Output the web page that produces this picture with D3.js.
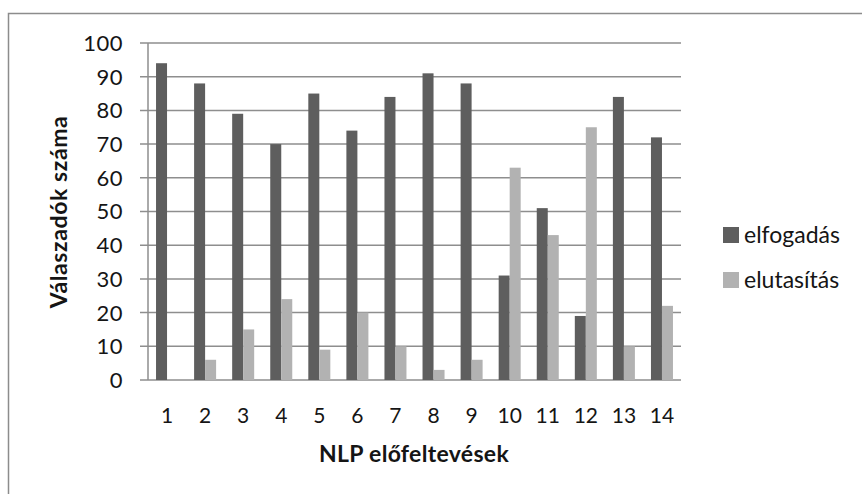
<!DOCTYPE html>
<html>
<head>
<meta charset="utf-8">
<script src="https://cdn.jsdelivr.net/npm/d3@7/dist/d3.min.js"></script>
<style>
  body { margin: 0; background: #fff; }
  text { font-family: Lato, "Open Sans", sans-serif; fill: #151515; }
</style>
</head>
<body>
<div id="chart"></div>
<script>
const categories = ['1', '2', '3', '4', '5', '6', '7', '8', '9', '10', '11', '12', '13', '14']
const elfogadas = [94, 88, 79, 70, 85, 74, 84, 91, 88, 31, 51, 19, 84, 72]
const elutasitas = [0, 6, 15, 24, 9, 20, 10, 3, 6, 63, 43, 75, 10, 22]
const seriesNames = ['elfogadás', 'elutasítás']
const yTicks = [0, 10, 20, 30, 40, 50, 60, 70, 80, 90, 100]

const colors = ['#5e5e5e', '#b2b2b2']
const width = 862, height = 494
const margins = { top: 43, right: 181, bottom: 114, left: 148 }

const svg = d3.select('#chart').append('svg')
  .attr('width', width)
  .attr('height', height)

// outer frame
svg.append('rect')
  .attr('x', 8.5).attr('y', 13.5)
  .attr('width', width + 20).attr('height', height + 20)
  .style('fill', 'none')
  .style('stroke', '#8c8c8c')
  .style('stroke-width', 1.5)

const chart = svg.append('g')
  .attr('transform', `translate(${margins.left},${margins.top})`)

const plotW = width - margins.left - margins.right
const plotH = height - margins.top - margins.bottom

const x = d3.scaleBand().domain(categories).range([0, plotW]).paddingInner(0).paddingOuter(0)
const xInner = d3.scaleBand().domain(seriesNames).range([0, x.bandwidth()]).paddingInner(0).paddingOuter(0.73)
const y = d3.scaleLinear().domain([0, 100]).range([plotH, 0])

// gridlines
chart.append('g')
  .selectAll('line')
  .data(yTicks)
  .join('line')
  .attr('x1', -8).attr('x2', plotW)
  .attr('y1', d => y(d)).attr('y2', d => y(d))
  .style('stroke', '#8e8e8e')
  .style('stroke-width', 1.5)

// y axis line
chart.append('line')
  .attr('x1', 0).attr('x2', 0)
  .attr('y1', 0).attr('y2', plotH)
  .style('stroke', '#8e8e8e')
  .style('stroke-width', 1.5)

// y tick labels
chart.append('g')
  .selectAll('text')
  .data(yTicks)
  .join('text')
  .attr('x', -25)
  .attr('y', d => y(d))
  .attr('dy', '0.36em')
  .attr('text-anchor', 'end')
  .style('font-size', '22px')
  .style('letter-spacing', '0.5px')
  .text(d => d)

// bars
const seriesData = [elfogadas, elutasitas]
seriesData.forEach((vals, si) => {
  chart.append('g')
    .selectAll('rect')
    .data(vals)
    .join('rect')
    .attr('x', (d, i) => x(categories[i]) + xInner(seriesNames[si]))
    .attr('width', xInner.bandwidth())
    .attr('y', d => y(d))
    .attr('height', d => y(0) - y(d))
    .style('fill', colors[si])
})

// x tick labels
chart.append('g')
  .selectAll('text')
  .data(categories)
  .join('text')
  .attr('x', d => x(d) + x.bandwidth() / 2)
  .attr('y', plotH + 43)
  .attr('text-anchor', 'middle')
  .style('font-size', '21px')
  .text(d => d)

// axis titles
svg.append('text')
  .attr('x', 414)
  .attr('y', 462)
  .attr('text-anchor', 'middle')
  .style('font-size', '23px')
  .style('font-weight', 'bold')
  .style('letter-spacing', '0.3px')
  .text('NLP előfeltevések')

svg.append('text')
  .attr('transform', 'translate(67,212) rotate(-90)')
  .attr('text-anchor', 'middle')
  .style('font-size', '23px')
  .style('font-weight', 'bold')
  .style('letter-spacing', '0.6px')
  .text('Válaszadók száma')

// legend
const legend = svg.append('g')
  .selectAll('g')
  .data(seriesNames)
  .join('g')
  .attr('transform', (d, i) => `translate(723,${235 + i * 45})`)

legend.append('rect')
  .attr('x', 0).attr('y', -8)
  .attr('width', 16).attr('height', 16)
  .style('fill', (d, i) => colors[i])

legend.append('text')
  .attr('x', 21)
  .attr('dy', '0.36em')
  .style('font-size', '23px')
  .text(d => d)
</script>
</body>
</html>
